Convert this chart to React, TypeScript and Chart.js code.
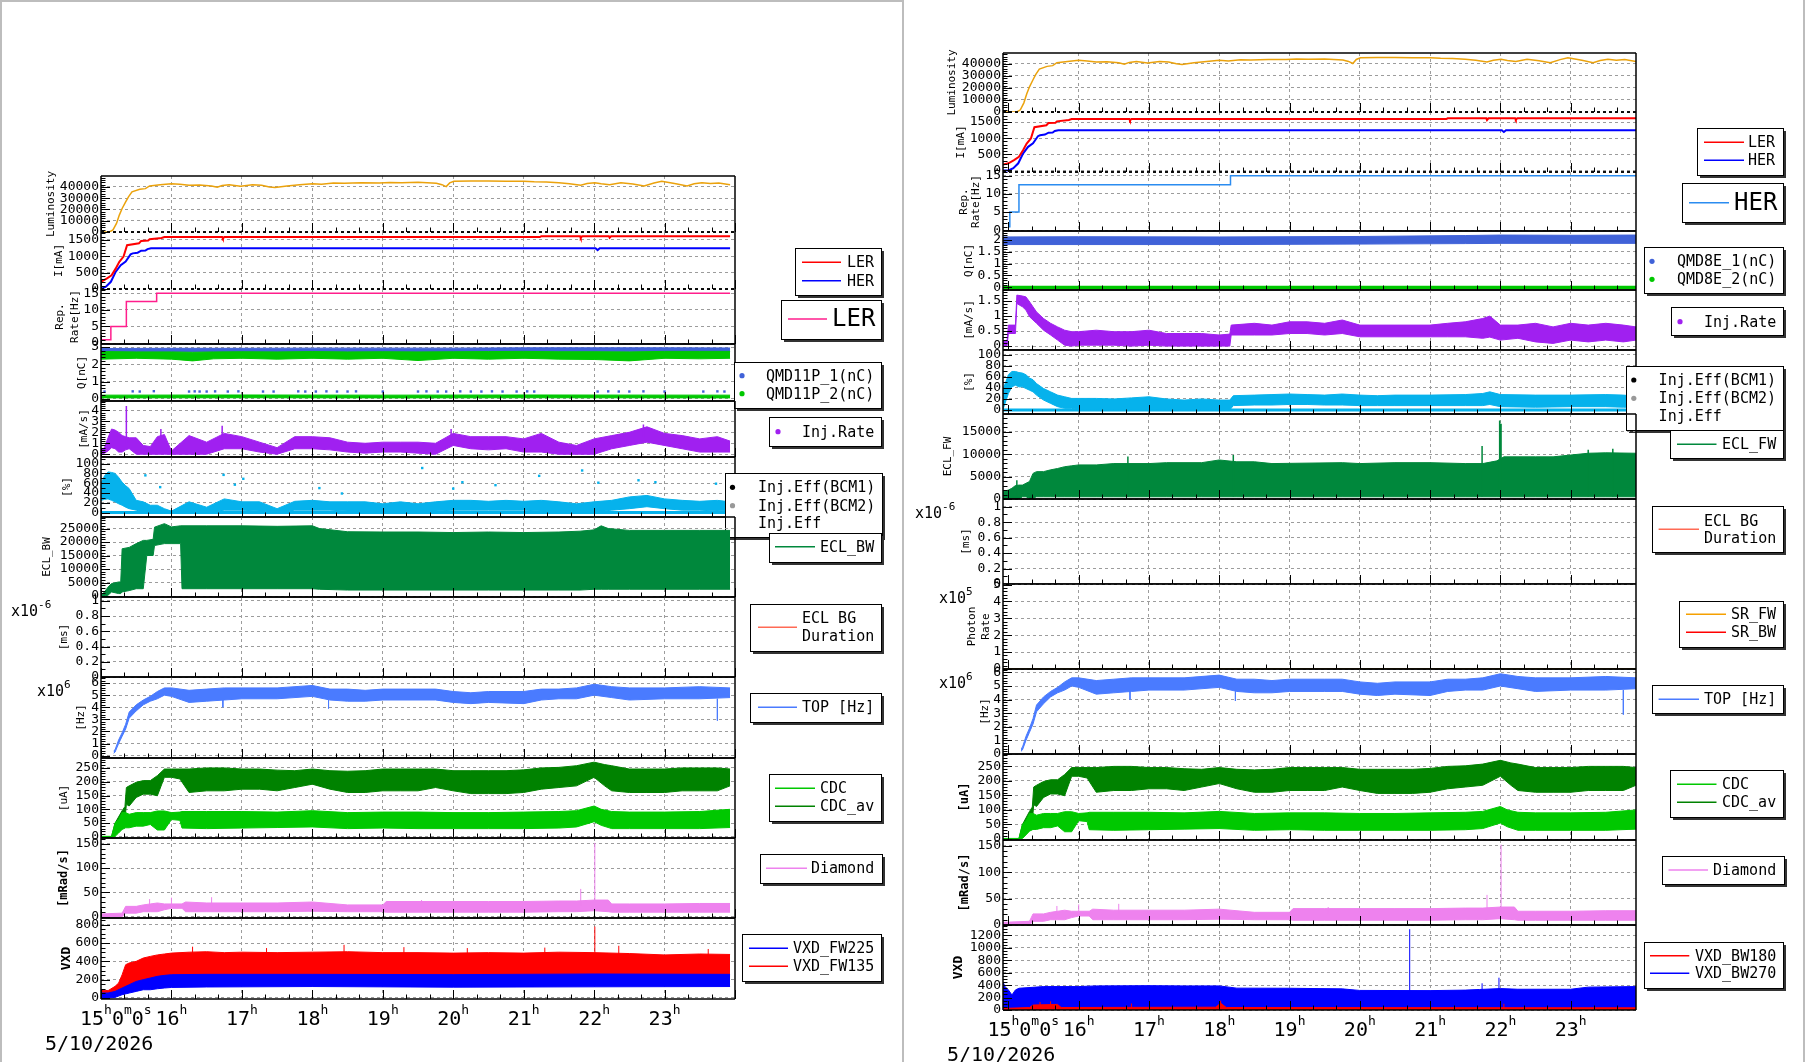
import { useEffect, useRef } from 'react';
import { Chart, registerables } from 'chart.js';

Chart.register(...registerables);

const MONO = '"DejaVu Sans Mono", monospace';
const GRID = '#9c9c9c';

// colours
const RED = '#ff0000';
const BLUE = '#0000ff';
const LUM_C = '#eba20c';
const LER_REP = '#ff1e8c';
const HER_REP = '#2b8cf0';
const Q_BLUE = '#4062d8';
const Q_GREEN = '#00c800';
const PURPLE = '#a020f0';
const CYAN = '#06b2ec';
const ECL_G = '#00883c';
const BG_DUR = '#ff6a55';
const TOP_C = '#4a7bff';
const CDC_L = '#00c800';
const CDC_D = '#008200';
const VIOLET = '#ee82ee';
const ORANGE = '#f5a000';

// time axis annotations
const HOURS = [16, 17, 18, 19, 20, 21, 22, 23];
const START_LABEL: [string, boolean][] = [['15', false], ['h', true], ['0', false], ['m', true], ['0', false], ['s', true]];
const DATE_LABEL = '5/10/2026';

// y tick sets
const T_LUM = [0, 10000, 20000, 30000, 40000];
const T_CUR = [0, 500, 1000, 1500];
const T_REP = [0, 5, 10, 15];
const T_Q_LER = [0, 1, 2, 3];
const T_Q_HER = [0, 0.5, 1, 1.5, 2];
const T_INJ_LER = [0, 1, 2, 3, 4];
const T_INJ_HER = [0, 0.5, 1, 1.5];
const T_EFF = [0, 20, 40, 60, 80, 100];
const T_ECL_BW = [0, 5000, 10000, 15000, 20000, 25000];
const T_ECL_FW = [0, 5000, 10000, 15000];
const T_MS = [0, 0.2, 0.4, 0.6, 0.8, 1];
const T_PHOTON = [0, 1, 2, 3, 4, 5];
const T_TOP = [0, 1, 2, 3, 4, 5, 6];
const T_CDC = [0, 50, 100, 150, 200, 250];
const T_DIA = [0, 50, 100, 150];
const T_VXD_FW = [0, 200, 400, 600, 800];
const T_VXD_BW = [0, 200, 400, 600, 800, 1000, 1200];

// ---- shared machine / detector channels: [hour, value] or [hour, low, high] ----
const luminosity = [
  [14.92, 0], [15.12, 0], [15.17, 1800], [15.22, 7600], [15.26, 15000], [15.3, 20900], [15.35, 26800], [15.39, 31200],
  [15.44, 35600], [15.55, 37900], [15.63, 38500], [15.69, 40900], [15.84, 42000], [16.0, 42900], [16.12, 42300],
  [16.25, 41500], [16.4, 41800], [16.57, 40900], [16.65, 39700], [16.72, 41200], [16.82, 42000], [16.98, 40600],
  [17.15, 42000], [17.28, 41500], [17.39, 40000], [17.47, 39400], [17.64, 40900], [17.82, 42000], [18.0, 42900],
  [18.13, 42400], [18.3, 43400], [18.45, 43200], [18.7, 43600], [18.95, 43500], [19.1, 44000], [19.27, 43800],
  [19.5, 44100], [19.76, 43200], [19.84, 42000], [19.9, 40300], [19.95, 43600], [20.01, 45000], [20.25, 45300],
  [20.5, 45300], [20.75, 45100], [21.0, 45000], [21.15, 44600], [21.32, 44400], [21.5, 43800], [21.65, 42900],
  [21.81, 41500], [21.9, 43000], [22.01, 43800], [22.1, 42800], [22.22, 42000], [22.38, 43800], [22.55, 42500],
  [22.71, 40900], [22.85, 43500], [22.96, 45000], [23.06, 44000], [23.16, 42900], [23.32, 40900], [23.42, 42800],
  [23.53, 43800], [23.65, 43000], [23.77, 43500], [23.93, 42000],
];
const lerCurrent = [
  [14.92, 180], [15.0, 220], [15.08, 320], [15.15, 420], [15.21, 630], [15.26, 830], [15.32, 990], [15.37, 1340],
  [15.54, 1400], [15.57, 1470], [15.67, 1480], [15.69, 1520], [15.86, 1560], [15.9, 1590], [16.72, 1590],
  [16.73, 1545], [16.75, 1590], [21.23, 1590], [21.25, 1615], [21.8, 1615], [21.81, 1560], [21.83, 1615],
  [22.21, 1615], [22.22, 1570], [22.24, 1615], [23.93, 1615],
];
const herCurrent = [
  [14.92, 0], [15.0, 0], [15.07, 70], [15.14, 220], [15.21, 530], [15.28, 730], [15.35, 840], [15.42, 1060],
  [15.45, 1090], [15.52, 1110], [15.57, 1170], [15.63, 1175], [15.66, 1220], [15.71, 1245], [22.02, 1245],
  [22.05, 1190], [22.08, 1245], [23.93, 1245],
];
const topRate = [
  [15.18, 0.2, 0.4], [15.2, 0.3, 0.5], [15.25, 1.0, 1.3], [15.3, 1.6, 1.9], [15.35, 2.2, 2.6], [15.4, 3.1, 3.6],
  [15.5, 3.7, 4.2], [15.6, 4.2, 4.6], [15.7, 4.5, 4.9], [15.8, 4.7, 5.3], [15.9, 5.0, 5.6], [16.0, 4.9, 5.6],
  [16.25, 4.4, 5.4], [16.5, 4.5, 5.5], [16.75, 4.6, 5.6], [17.0, 4.7, 5.6], [17.5, 4.7, 5.6], [18.0, 4.9, 5.8],
  [18.25, 4.6, 5.5], [18.5, 4.5, 5.5], [18.75, 4.5, 5.4], [19.0, 4.6, 5.5], [19.5, 4.6, 5.5], [19.75, 4.6, 5.5],
  [20.0, 4.4, 5.3], [20.25, 4.3, 5.2], [20.5, 4.4, 5.3], [21.0, 4.3, 5.3], [21.25, 4.6, 5.5], [21.5, 4.7, 5.5],
  [21.75, 4.7, 5.6], [22.0, 5.0, 5.9], [22.25, 4.8, 5.7], [22.5, 4.6, 5.6], [23.0, 4.7, 5.6], [23.5, 4.7, 5.7],
  [23.93, 4.8, 5.6],
];
const topDips = [[16.73, 4.6, 4.0], [18.23, 4.6, 3.9], [23.75, 4.7, 2.9]];
const cdcAv = [
  [15.15, 0, 2], [15.2, 10, 50], [15.3, 45, 95], [15.34, 60, 110], [15.36, 118, 179], [15.4, 112, 185],
  [15.5, 143, 198], [15.6, 155, 204], [15.7, 155, 204], [15.8, 149, 222], [15.9, 216, 246], [16.0, 216, 246],
  [16.12, 210, 246], [16.25, 161, 246], [16.5, 167, 250], [16.75, 167, 250], [17.0, 173, 246], [17.25, 173, 246],
  [17.5, 167, 242], [17.75, 179, 240], [18.0, 191, 246], [18.25, 173, 240], [18.5, 161, 238], [18.75, 161, 240],
  [19.0, 167, 246], [19.25, 167, 246], [19.5, 167, 246], [19.75, 179, 246], [20.0, 167, 240], [20.25, 157, 240],
  [20.5, 157, 240], [20.75, 157, 240], [21.0, 161, 243], [21.25, 173, 250], [21.5, 179, 252], [21.75, 185, 258],
  [22.0, 216, 271], [22.15, 185, 262], [22.25, 167, 258], [22.5, 161, 246], [22.75, 161, 246], [23.0, 161, 246],
  [23.25, 167, 250], [23.5, 167, 250], [23.75, 167, 250], [23.93, 185, 246],
];
const cdc = [
  [14.92, 0, 2], [15.15, 0, 2], [15.2, 2, 51], [15.25, 14, 63], [15.3, 27, 88], [15.35, 33, 88], [15.4, 33, 82],
  [15.5, 39, 88], [15.6, 39, 88], [15.7, 45, 88], [15.8, 25, 94], [15.9, 25, 94], [16.0, 63, 88], [16.12, 60, 90],
  [16.15, 32, 92], [16.5, 30, 92], [17.0, 32, 92], [17.5, 34, 90], [18.0, 36, 95], [18.5, 30, 88], [19.0, 32, 90],
  [19.5, 30, 90], [20.0, 30, 88], [20.5, 30, 88], [21.0, 30, 90], [21.5, 32, 92], [21.75, 36, 95], [22.0, 55, 112],
  [22.1, 42, 100], [22.25, 30, 92], [22.5, 30, 90], [23.0, 30, 90], [23.5, 30, 92], [23.93, 34, 100],
];
const diamond = [
  [14.92, 0, 5], [15.3, 0, 7], [15.35, 7, 21], [15.5, 7, 21], [15.6, 10, 24], [15.7, 10, 26], [15.8, 10, 28],
  [15.9, 14, 26], [16.0, 17, 26], [16.15, 17, 26], [16.2, 10, 30], [16.5, 10, 28], [17.0, 10, 28], [17.5, 10, 28],
  [18.0, 11, 30], [18.5, 10, 24], [19.0, 10, 24], [19.05, 9, 31], [19.5, 9, 31], [20.0, 9, 31], [20.5, 9, 31],
  [21.0, 9, 31], [21.5, 10, 32], [21.75, 10, 32], [22.0, 12, 34], [22.2, 10, 34], [22.25, 9, 26], [22.5, 9, 26],
  [23.0, 9, 26], [23.5, 9, 27], [23.93, 9, 27],
];
const diamondSpikes = [[15.69, 20, 36], [16.0, 20, 39], [16.57, 20, 40], [19.55, 20, 34], [21.81, 20, 57], [22.01, 20, 152]];

// ---- LER side ----
const lerRepRate = [[15.0, 1], [15.14, 5], [15.36, 12.5], [15.79, 15], [23.93, 15]];
const qmd11p1 = [
  [15.0, 2.72, 2.92], [16.0, 2.72, 2.93], [17.0, 2.72, 2.93], [18.0, 2.72, 2.94], [19.0, 2.72, 2.94],
  [20.0, 2.72, 2.94], [20.5, 2.73, 2.95], [21.0, 2.73, 2.96], [22.0, 2.73, 2.96], [23.0, 2.73, 2.96], [23.93, 2.73, 2.95],
];
const qmd11p2 = [
  [15.0, 2.3, 2.74], [15.5, 2.35, 2.72], [16.0, 2.3, 2.72], [16.3, 2.2, 2.7], [16.6, 2.32, 2.72], [17.0, 2.35, 2.73],
  [17.5, 2.3, 2.72], [18.0, 2.35, 2.74], [18.5, 2.3, 2.72], [19.0, 2.35, 2.73], [19.5, 2.22, 2.72], [20.0, 2.35, 2.73],
  [20.5, 2.3, 2.74], [21.0, 2.35, 2.75], [21.5, 2.3, 2.73], [22.0, 2.28, 2.73], [22.5, 2.2, 2.72], [23.0, 2.35, 2.75],
  [23.5, 2.32, 2.75], [23.93, 2.35, 2.75],
];
const qmd11p2Low = [[15.0, 0.05, 0.21], [17.0, 0.06, 0.22], [19.0, 0.05, 0.21], [21.0, 0.06, 0.22], [23.93, 0.05, 0.21]];
const qmd11p1Low = [
  [15.05, 0.42], [15.45, 0.43], [15.55, 0.42], [15.75, 0.44], [16.25, 0.42], [16.33, 0.43], [16.4, 0.42], [16.5, 0.42],
  [16.62, 0.43], [16.8, 0.42], [16.95, 0.43], [17.3, 0.42], [17.45, 0.42], [17.8, 0.43], [17.9, 0.42], [18.05, 0.42],
  [18.2, 0.43], [18.35, 0.42], [18.5, 0.42], [18.62, 0.43], [19.0, 0.42], [19.5, 0.42], [19.62, 0.43], [19.78, 0.42],
  [19.9, 0.42], [20.1, 0.43], [20.25, 0.42], [20.4, 0.42], [20.55, 0.43], [20.7, 0.42], [20.9, 0.42], [21.05, 0.43],
  [21.15, 0.42], [22.05, 0.42], [22.2, 0.43], [22.35, 0.42], [22.5, 0.42], [22.7, 0.43], [23.0, 0.42], [23.55, 0.42],
  [23.75, 0.43], [23.85, 0.42],
];
const injRateLER = [
  [15.0, 0, 0.4], [15.05, 0.1, 0.6], [15.1, 0.3, 1.5], [15.15, 0.6, 2.3], [15.2, 0.5, 2.2], [15.25, 0.2, 2.0],
  [15.3, 0.2, 1.7], [15.35, 0.4, 1.6], [15.4, 0.5, 1.5], [15.5, 0, 1.5], [15.6, 0, 0.8], [15.7, 0, 0.7], [15.8, 0, 1.6],
  [15.9, 0, 1.8], [16.0, 0, 0.3], [16.25, 0, 1.7], [16.5, 0, 1.1], [16.75, 0.5, 1.9], [17.0, 0.5, 1.6],
  [17.25, 0.2, 1.1], [17.5, 0, 0.6], [17.75, 0.5, 1.6], [18.0, 0.5, 1.6], [18.25, 0.4, 1.5], [18.5, 0.2, 1.1],
  [18.75, 0.1, 1.0], [19.0, 0.2, 1.1], [19.25, 0.2, 1.1], [19.5, 0.1, 1.1], [19.75, 0, 1.0], [20.0, 0.8, 1.9],
  [20.25, 0.5, 1.6], [20.5, 0.4, 1.6], [20.75, 0.5, 1.6], [21.0, 0.2, 1.4], [21.25, 0.2, 1.9], [21.5, 0, 1.1],
  [21.75, 0, 0.8], [22.0, 0, 1.4], [22.25, 0.5, 1.7], [22.5, 0.8, 2.0], [22.75, 1.1, 2.5], [23.0, 0.8, 1.9],
  [23.25, 0.5, 1.7], [23.5, 0.2, 1.4], [23.75, 0.2, 1.6], [23.93, 0.2, 1.2],
];
const injRateLERSpikes = [[15.36, 1.0, 4.4], [15.85, 0.5, 2.3], [16.72, 0.8, 2.6], [19.97, 1.0, 2.3], [22.7, 1.5, 2.7]];
const effLER = [
  [15.0, 25, 59], [15.05, 27, 75], [15.1, 28, 83], [15.15, 25, 82], [15.2, 22, 80], [15.25, 18, 72], [15.3, 15, 62],
  [15.35, 11, 55], [15.4, 8, 49], [15.5, 5, 25], [15.6, 1, 22], [15.7, 0, 15], [15.8, 0, 15], [15.9, 0, 8],
  [16.0, 0, 3], [16.25, 3, 22], [16.5, 0, 11], [16.75, 5, 28], [17.0, 5, 22], [17.25, 3, 22], [17.5, 0, 8],
  [17.75, 5, 23], [18.0, 5, 25], [18.25, 5, 22], [18.5, 3, 22], [18.75, 3, 22], [19.0, 1, 18], [19.25, 3, 22],
  [19.5, 1, 18], [19.75, 3, 22], [20.0, 5, 25], [20.25, 5, 25], [20.5, 5, 23], [20.75, 5, 25], [21.0, 5, 23],
  [21.25, 3, 25], [21.5, 1, 22], [21.75, 0, 18], [22.0, 1, 22], [22.25, 5, 25], [22.5, 8, 32], [22.75, 12, 35],
  [23.0, 8, 28], [23.25, 5, 25], [23.5, 5, 23], [23.75, 3, 25], [23.93, 5, 22],
];
const effLEROutliers = [
  [15.63, 76], [15.84, 52], [16.74, 77], [16.9, 57], [17.02, 69], [18.1, 50], [18.42, 39], [19.56, 91], [20.0, 49],
  [20.13, 62], [20.6, 56], [21.22, 75], [21.83, 86], [22.06, 61], [22.63, 66], [22.87, 62], [23.73, 59], [23.9, 49],
];
const effLERZero = [[15.0, 0], [23.93, 0]];
const eclBW = [
  [15.0, 0, 300], [15.05, 0, 1500], [15.1, 300, 3300], [15.15, 1500, 4600], [15.25, 900, 5200], [15.28, 900, 5200],
  [15.3, 1500, 17500], [15.4, 2000, 18000], [15.5, 2700, 19400], [15.6, 2700, 20600], [15.65, 15000, 20600],
  [15.74, 15000, 21000], [15.76, 18700, 25500], [15.9, 19400, 26800], [16.0, 19400, 25600], [16.13, 19400, 26000],
  [16.15, 2700, 26000], [16.5, 2700, 26000], [17.0, 2700, 26000], [17.5, 2700, 25800], [18.0, 2700, 26000],
  [18.1, 2500, 25000], [18.5, 2200, 23800], [19.0, 2200, 23700], [19.5, 2200, 23700], [20.0, 2200, 23500],
  [20.5, 2200, 23700], [21.0, 2200, 23500], [21.5, 2200, 23700], [21.8, 2200, 24000], [22.0, 2500, 24500],
  [22.1, 2500, 26000], [22.2, 2500, 25000], [22.5, 2500, 24300], [23.0, 2500, 24300], [23.5, 2500, 24300],
  [23.93, 2500, 24300],
];
const vxdFW135 = [
  [15.0, 0, 90], [15.1, 7, 80], [15.2, 18, 127], [15.25, 36, 163], [15.3, 72, 254], [15.35, 109, 363],
  [15.4, 109, 382], [15.5, 145, 400], [15.6, 181, 436], [15.7, 200, 454], [15.8, 218, 470], [15.9, 236, 480],
  [16.0, 240, 490], [16.25, 240, 500], [16.5, 240, 505], [16.75, 240, 495], [17.0, 240, 500], [17.5, 240, 495],
  [18.0, 240, 500], [18.5, 240, 505], [19.0, 240, 495], [19.5, 240, 495], [20.0, 240, 490], [20.5, 240, 495],
  [21.0, 240, 490], [21.5, 240, 500], [22.0, 240, 495], [22.5, 240, 485], [23.0, 240, 470], [23.5, 240, 480],
  [23.93, 240, 475],
];
const vxdFW135Spikes = [
  [16.3, 450, 560], [17.35, 450, 545], [18.45, 450, 580], [19.3, 450, 555], [20.2, 450, 545], [21.3, 450, 550],
  [22.01, 450, 780], [22.35, 450, 570], [23.62, 450, 535],
];
const vxdFW225 = [
  [15.0, 0, 55], [15.1, 0, 54], [15.2, 7, 72], [15.3, 36, 109], [15.4, 54, 145], [15.5, 72, 181], [15.6, 90, 200],
  [15.7, 90, 218], [15.8, 101, 236], [15.9, 109, 247], [16.0, 115, 254], [16.5, 120, 258], [18.0, 125, 258],
  [20.0, 118, 255], [22.0, 122, 262], [23.93, 125, 258],
];

// ---- HER side ----
const herRepRate = [[15.0, 1], [15.02, 5], [15.15, 12.5], [18.16, 15], [23.93, 15]];
const qmd8e1 = [
  [14.92, 1.8, 2.12], [16.0, 1.8, 2.13], [18.0, 1.8, 2.12], [20.0, 1.82, 2.14], [21.5, 1.84, 2.18],
  [22.0, 1.85, 2.2], [23.0, 1.85, 2.19], [23.93, 1.85, 2.2],
];
const qmd8e2 = [[14.92, 0], [23.93, 0]];
const injRateHER = [
  [14.92, 0, 0.15], [14.98, 0, 0.15], [15.0, 0.42, 0.7], [15.1, 0.42, 0.7], [15.12, 1.42, 1.7], [15.2, 1.31, 1.67],
  [15.25, 1.2, 1.64], [15.3, 0.98, 1.48], [15.35, 0.87, 1.31], [15.4, 0.76, 1.14], [15.5, 0.53, 0.92],
  [15.6, 0.37, 0.76], [15.7, 0.2, 0.64], [15.8, 0.03, 0.53], [15.9, 0, 0.48], [16.0, 0.03, 0.48], [16.25, 0.03, 0.53],
  [16.5, 0.03, 0.48], [16.75, 0, 0.48], [17.0, 0.03, 0.53], [17.25, 0, 0.42], [17.5, 0, 0.42], [17.75, 0, 0.42],
  [18.0, 0, 0.37], [18.15, 0, 0.4], [18.17, 0.37, 0.7], [18.5, 0.37, 0.76], [18.75, 0.37, 0.7], [19.0, 0.42, 0.81],
  [19.25, 0.42, 0.81], [19.5, 0.37, 0.76], [19.75, 0.42, 0.87], [20.0, 0.31, 0.7], [20.5, 0.31, 0.7],
  [21.0, 0.31, 0.7], [21.25, 0.31, 0.76], [21.5, 0.31, 0.81], [21.75, 0.26, 0.92], [21.85, 0.3, 1.0],
  [22.0, 0.2, 0.7], [22.25, 0.26, 0.7], [22.5, 0.14, 0.76], [22.75, 0.09, 0.64], [23.0, 0.2, 0.76],
  [23.25, 0.14, 0.7], [23.5, 0.2, 0.76], [23.75, 0.14, 0.7], [23.93, 0.2, 0.64],
];
const effHER = [
  [14.92, 0, 36], [15.0, 30, 64], [15.05, 42, 70], [15.1, 45, 70], [15.15, 42, 68], [15.2, 42, 67], [15.25, 39, 64],
  [15.3, 36, 58], [15.35, 33, 55], [15.4, 27, 48], [15.5, 18, 39], [15.6, 12, 33], [15.7, 6, 27], [15.8, 3, 24],
  [15.9, 3, 21], [16.0, 1, 21], [16.25, 2, 21], [16.5, 2, 20], [16.75, 2, 22], [17.0, 2, 24], [17.25, 1, 20],
  [17.5, 0, 18], [17.75, 1, 20], [18.0, 0, 18], [18.15, 0, 18], [18.2, 8, 26], [18.5, 9, 27], [18.75, 9, 28],
  [19.0, 10, 29], [19.25, 10, 28], [19.5, 9, 27], [19.75, 9, 29], [20.0, 8, 27], [20.25, 8, 26], [20.5, 8, 27],
  [21.0, 8, 27], [21.5, 8, 28], [21.75, 8, 30], [21.85, 10, 33], [22.0, 6, 28], [22.5, 5, 27], [23.0, 6, 27],
  [23.5, 6, 28], [23.75, 5, 27], [23.93, 5, 25],
];
const effHERZero = [[14.92, 0], [23.93, 0]];
const eclFW = [
  [14.92, 0, 1600], [15.0, 0, 2000], [15.05, 0, 2400], [15.1, 0, 3000], [15.15, 0, 3100], [15.2, 500, 3100],
  [15.25, 500, 3500], [15.3, 150, 3900], [15.35, 150, 5700], [15.4, 500, 6100], [15.5, 500, 6100],
  [15.6, 500, 6500], [15.7, 500, 6800], [15.8, 500, 7200], [15.9, 500, 7400], [16.0, 500, 7600],
  [16.25, 500, 7600], [16.5, 500, 7900], [17.0, 500, 7900], [17.25, 500, 8100], [17.75, 500, 8100],
  [18.0, 500, 8700], [18.25, 500, 8300], [18.5, 500, 8300], [18.75, 500, 7900], [19.75, 500, 8100],
  [20.0, 500, 7900], [20.5, 500, 8100], [21.0, 500, 8100], [21.5, 500, 7900], [21.75, 500, 7900],
  [21.95, 500, 8500], [22.05, 500, 9400], [22.5, 500, 9400], [22.75, 500, 9400], [23.0, 500, 9800],
  [23.25, 500, 10200], [23.5, 500, 10300], [23.93, 500, 10200],
];
const eclFWSpikes = [
  [15.12, 500, 4200], [16.7, 500, 9500], [18.2, 500, 9800], [21.74, 500, 11800], [21.99, 500, 17500],
  [22.01, 500, 16800], [23.25, 500, 11000], [23.6, 500, 11200],
];
const srFW = [[14.92, 0], [23.93, 0]];
const srBW = [[14.92, 0], [23.93, 0]];
const vxdBW270 = [
  [14.92, 20, 460], [14.95, 20, 380], [15.0, 20, 323], [15.05, 20, 242], [15.1, 20, 323], [15.15, 20, 350],
  [15.5, 20, 377], [16.0, 20, 377], [16.25, 20, 388], [17.0, 20, 392], [17.5, 20, 388], [18.0, 20, 388],
  [18.25, 20, 352], [19.0, 20, 350], [19.75, 20, 340], [20.0, 20, 315], [21.0, 20, 312], [21.5, 20, 320],
  [21.7, 20, 330], [22.0, 20, 345], [22.25, 20, 334], [23.0, 20, 334], [23.25, 20, 368], [23.93, 20, 377],
];
const vxdBW270Spikes = [[20.71, 200, 1300], [21.74, 250, 430], [21.98, 250, 520]];
const vxdBW180 = [
  [14.92, 0, 25], [15.3, 0, 40], [15.35, 0, 80], [15.7, 0, 90], [15.75, 0, 40], [17.95, 0, 45], [18.02, 0, 110],
  [18.1, 0, 40], [23.93, 0, 35],
];
const vxdBW180Spikes = [[15.45, 0, 130], [15.6, 0, 140], [16.75, 0, 105], [18.02, 0, 150], [22.05, 0, 100]];

// ---------- dataset builders ----------
type Rows = number[][];
const xy = (rows: Rows, k = 1) => rows.map((r) => ({ x: r[0], y: r[k] }));
const line = (rows: Rows, color: string, width = 1.5, stepped = false) => [
  { data: xy(rows), borderColor: color, borderWidth: width, pointRadius: 0, fill: false, stepped },
];
const band = (rows: Rows, color: string) => [
  { data: xy(rows, 1), borderColor: color, borderWidth: 1, pointRadius: 0, fill: false },
  { data: xy(rows, 2), borderColor: color, borderWidth: 1, pointRadius: 0, fill: '-1', backgroundColor: color },
];
const spikes = (rows: Rows, color: string, width = 1) => {
  const d: any[] = [];
  rows.forEach(([t, a, b]) => d.push({ x: t, y: a }, { x: t, y: b }, { x: t, y: null }));
  return [{ data: d, borderColor: color, borderWidth: width, pointRadius: 0, fill: false, spanGaps: false }];
};
const dots = (rows: Rows, color: string, r = 1.7) => [
  { data: xy(rows), showLine: false, pointRadius: r, pointStyle: 'rect', backgroundColor: color, borderWidth: 0 },
];

type LegRow = { y: number; text: string; kind: 'line' | 'dot' | 'none'; color?: string };
type Legend = { box: number[]; lineX?: number[]; dotX?: number; textX: number; font?: number; rows: LegRow[] };
type Title = { text: string; dx: number; bold?: boolean; size?: number };
type Panel = {
  top: number; bottom: number; ymin: number; ymax: number; yticks: number[]; minor: number;
  titles: Title[]; sets: any[]; legend?: Legend; expo?: { sup: string; dx: number };
  dashTop?: boolean; dashBottom?: boolean; axisLabels?: boolean;
};
type Column = { x0: number; width: number; frameR: number; xmin: number; xmax: number; panels: Panel[] };

const L = (y: number, text: string, color: string): LegRow => ({ y, text, kind: 'line', color });
const D = (y: number, text: string, color: string): LegRow => ({ y, text, kind: 'dot', color });

const leftColumn: Column = {
  x0: 0, width: 902, frameR: 735, xmin: 15.0, xmax: 24.0,
  panels: [
    { top: 176, bottom: 232, ymin: 0, ymax: 49700, yticks: T_LUM, minor: 5, dashBottom: true,
      titles: [{ text: 'Luminosity', dx: -50 }], sets: [...line(luminosity, LUM_C)] },
    { top: 232, bottom: 289, ymin: 0, ymax: 1743, yticks: T_CUR, minor: 5, dashTop: true, dashBottom: true,
      titles: [{ text: 'I[mA]', dx: -42 }], sets: [...line(herCurrent, BLUE, 2), ...line(lerCurrent, RED, 2)],
      legend: { box: [795, 248, 881, 295], lineX: [802, 841], textX: 847, rows: [L(262.3, 'LER', RED), L(280.7, 'HER', BLUE)] } },
    { top: 289, bottom: 344, ymin: -0.3, ymax: 16.3, yticks: T_REP, minor: 5, dashTop: true,
      titles: [{ text: 'Rep.', dx: -41 }, { text: 'Rate[Hz]', dx: -26 }], sets: [...line(lerRepRate, LER_REP, 1.5, true)],
      legend: { box: [781, 300, 881, 339], lineX: [788, 827], textX: 832, font: 24, rows: [L(319, 'LER', LER_REP)] } },
    { top: 344, bottom: 401, ymin: -0.13, ymax: 3.18, yticks: T_Q_LER, minor: 5,
      titles: [{ text: 'Q[nC]', dx: -19 }],
      sets: [...band(qmd11p1, Q_BLUE), ...band(qmd11p2, Q_GREEN), ...band(qmd11p2Low, Q_GREEN), ...dots(qmd11p1Low, Q_BLUE)],
      legend: { box: [734, 362, 881, 408], dotX: 742, textX: 766, rows: [D(375.7, 'QMD11P_1(nC)', Q_BLUE), D(393.7, 'QMD11P_2(nC)', Q_GREEN)] } },
    { top: 401, bottom: 457, ymin: -0.25, ymax: 4.85, yticks: T_INJ_LER, minor: 5,
      titles: [{ text: '[mA/s]', dx: -17 }], sets: [...band(injRateLER, PURPLE), ...spikes(injRateLERSpikes, PURPLE, 1.5)],
      legend: { box: [769, 417, 881, 446], dotX: 778, textX: 802, rows: [D(431.7, 'Inj.Rate', PURPLE)] } },
    { top: 457, bottom: 517, ymin: -9, ymax: 113.5, yticks: T_EFF, minor: 2,
      titles: [{ text: '[%]', dx: -34 }],
      sets: [...line(effLERZero, CYAN, 3), ...band(effLER, CYAN), ...dots(effLEROutliers, CYAN)],
      legend: { box: [724.5, 473, 881, 537], dotX: 732.5, textX: 758,
        rows: [D(487.3, 'Inj.Eff(BCM1)', '#000'), D(505.7, 'Inj.Eff(BCM2)', '#999'), { y: 523.3, text: 'Inj.Eff', kind: 'none' }] } },
    { top: 517, bottom: 597, ymin: -370, ymax: 29260, yticks: T_ECL_BW, minor: 5,
      titles: [{ text: 'ECL_BW', dx: -54 }], sets: [...band(eclBW, ECL_G)],
      legend: { box: [769, 533, 881, 562], lineX: [775, 815], textX: 820, rows: [L(546.7, 'ECL_BW', ECL_G)] } },
    { top: 597, bottom: 677, ymin: 0, ymax: 1.05, yticks: T_MS, minor: 2, expo: { sup: '-6', dx: -90 },
      titles: [{ text: '[ms]', dx: -37 }], sets: [],
      legend: { box: [750, 604, 881, 651], lineX: [758, 797], textX: 802,
        rows: [{ y: 618.3, text: 'ECL BG', kind: 'none' }, { y: 636, text: 'Duration', kind: 'none' }, L(627.3, '', BG_DUR)] } },
    { top: 677, bottom: 758, ymin: -0.19, ymax: 6.5, yticks: T_TOP, minor: 5, expo: { sup: '6', dx: -64 },
      titles: [{ text: '[Hz]', dx: -20 }], sets: [...band(topRate, TOP_C), ...spikes(topDips, TOP_C)],
      legend: { box: [750, 693, 881, 722], lineX: [758, 797], textX: 802, rows: [L(707.3, 'TOP [Hz]', TOP_C)] } },
    { top: 758, bottom: 838, ymin: -4, ymax: 286, yticks: T_CDC, minor: 5,
      titles: [{ text: '[uA]', dx: -37 }], sets: [...band(cdcAv, CDC_D), ...band(cdc, CDC_L)],
      legend: { box: [769, 774, 881, 821], lineX: [775, 815], textX: 820, rows: [L(788.3, 'CDC', CDC_L), L(806.3, 'CDC_av', CDC_D)] } },
    { top: 838, bottom: 918, ymin: -3, ymax: 162, yticks: T_DIA, minor: 5,
      titles: [{ text: '[mRad/s]', dx: -37, bold: true, size: 12 }], sets: [...band(diamond, VIOLET), ...spikes(diamondSpikes, VIOLET)],
      legend: { box: [759.5, 854, 881, 883], lineX: [766, 807], textX: 811, rows: [L(868.3, 'Diamond', VIOLET)] } },
    { top: 918, bottom: 999, ymin: -11, ymax: 873, yticks: T_VXD_FW, minor: 4, axisLabels: true,
      titles: [{ text: 'VXD', dx: -34, bold: true, size: 13 }],
      sets: [...band(vxdFW135, RED), ...spikes(vxdFW135Spikes, RED), ...band(vxdFW225, BLUE)],
      legend: { box: [741.7, 934, 881, 981], lineX: [749, 788], textX: 793, rows: [L(948.3, 'VXD_FW225', BLUE), L(966.3, 'VXD_FW135', RED)] } },
  ],
};

const rightColumn: Column = {
  x0: 902, width: 904, frameR: 734, xmin: 14.923, xmax: 23.93,
  panels: [
    { top: 53, bottom: 112, ymin: 0, ymax: 49000, yticks: T_LUM, minor: 5, dashBottom: true,
      titles: [{ text: 'Luminosity', dx: -51 }], sets: [...line(luminosity, LUM_C)] },
    { top: 112, bottom: 172, ymin: -50, ymax: 1810, yticks: T_CUR, minor: 5, dashTop: true, dashBottom: true,
      titles: [{ text: 'I[mA]', dx: -42 }], sets: [...line(herCurrent, BLUE, 2), ...line(lerCurrent, RED, 2)],
      legend: { box: [795, 128.3, 881, 175], lineX: [802, 842], textX: 846, rows: [L(142.3, 'LER', RED), L(160.3, 'HER', BLUE)] } },
    { top: 172, bottom: 231, ymin: -0.2, ymax: 16.0, yticks: T_REP, minor: 5, dashTop: true,
      titles: [{ text: 'Rep.', dx: -39 }, { text: 'Rate[Hz]', dx: -27 }], sets: [...line(herRepRate, HER_REP, 1.5, true)],
      legend: { box: [780, 183.3, 881, 222.7], lineX: [787, 827], textX: 832, font: 24, rows: [L(202.7, 'HER', HER_REP)] } },
    { top: 231, bottom: 290, ymin: -0.11, ymax: 2.37, yticks: T_Q_HER, minor: 5,
      titles: [{ text: 'Q[nC]', dx: -34 }], sets: [...band(qmd8e1, Q_BLUE), ...line(qmd8e2, Q_GREEN, 3.5)],
      legend: { box: [742, 247.3, 881, 293.3], dotX: 750, textX: 775, rows: [D(261.3, 'QMD8E_1(nC)', Q_BLUE), D(279.3, 'QMD8E_2(nC)', Q_GREEN)] } },
    { top: 290, bottom: 350, ymin: -0.13, ymax: 1.87, yticks: T_INJ_HER, minor: 5,
      titles: [{ text: '[mA/s]', dx: -34 }], sets: [...band(injRateHER, PURPLE)],
      legend: { box: [769.4, 307.3, 881, 335.7], dotX: 778, textX: 802, rows: [D(321.7, 'Inj.Rate', PURPLE)] } },
    { top: 350, bottom: 414, ymin: -7.3, ymax: 109, yticks: T_EFF, minor: 2,
      titles: [{ text: '[%]', dx: -34 }], sets: [...line(effHERZero, CYAN, 3), ...band(effHER, CYAN)],
      legend: { box: [724.3, 366, 881, 430], dotX: 731.8, textX: 756.6,
        rows: [D(380, 'Inj.Eff(BCM1)', '#000'), D(398.3, 'Inj.Eff(BCM2)', '#999'), { y: 416, text: 'Inj.Eff', kind: 'none' }] } },
    { top: 414, bottom: 499, ymin: 0, ymax: 18950, yticks: T_ECL_FW, minor: 5,
      titles: [{ text: 'ECL_FW', dx: -55 }], sets: [...band(eclFW, ECL_G), ...spikes(eclFWSpikes, ECL_G, 1.5)],
      legend: { box: [768, 430, 881, 458.3], lineX: [775, 814.5], textX: 820, rows: [L(444.3, 'ECL_FW', ECL_G)] } },
    { top: 499, bottom: 584, ymin: 0, ymax: 1.1, yticks: T_MS, minor: 2, expo: { sup: '-6', dx: -88 },
      titles: [{ text: '[ms]', dx: -37 }], sets: [],
      legend: { box: [750.3, 506, 881, 552.3], lineX: [756.6, 797], textX: 802,
        rows: [{ y: 520.7, text: 'ECL BG', kind: 'none' }, { y: 538.3, text: 'Duration', kind: 'none' }, L(529.3, '', BG_DUR)] } },
    { top: 584, bottom: 669, ymin: 0, ymax: 5.03, yticks: T_PHOTON, minor: 5, expo: { sup: '5', dx: -64 },
      titles: [{ text: 'Photon', dx: -31 }, { text: 'Rate', dx: -17 }], sets: [...line(srBW, RED, 2), ...line(srFW, ORANGE, 2)],
      legend: { box: [777, 600.7, 881, 646.7], lineX: [784, 824], textX: 829, rows: [L(614.3, 'SR_FW', ORANGE), L(632.3, 'SR_BW', RED)] } },
    { top: 669, bottom: 754, ymin: 0, ymax: 6.25, yticks: T_TOP, minor: 5, expo: { sup: '6', dx: -64 },
      titles: [{ text: '[Hz]', dx: -18 }], sets: [...band(topRate, TOP_C), ...spikes(topDips, TOP_C)],
      legend: { box: [750.3, 685, 881, 713.3], lineX: [756.6, 797], textX: 802, rows: [L(699.3, 'TOP [Hz]', TOP_C)] } },
    { top: 754, bottom: 840, ymin: -3.4, ymax: 292.7, yticks: T_CDC, minor: 5,
      titles: [{ text: '[uA]', dx: -38, bold: true, size: 12 }], sets: [...band(cdcAv, CDC_D), ...band(cdc, CDC_L)],
      legend: { box: [768, 770, 881, 816.7], lineX: [775, 814.5], textX: 820, rows: [L(784.3, 'CDC', CDC_L), L(802.3, 'CDC_av', CDC_D)] } },
    { top: 840, bottom: 925, ymin: 0, ymax: 160.8, yticks: T_DIA, minor: 5,
      titles: [{ text: '[mRad/s]', dx: -38, bold: true, size: 12 }], sets: [...band(diamond, VIOLET), ...spikes(diamondSpikes, VIOLET)],
      legend: { box: [759.5, 856, 881, 884.3], lineX: [766.5, 806], textX: 811, rows: [L(870, 'Diamond', VIOLET)] } },
    { top: 925, bottom: 1010, ymin: 0, ymax: 1368, yticks: T_VXD_BW, minor: 4, axisLabels: true,
      titles: [{ text: 'VXD', dx: -44, bold: true, size: 13 }],
      sets: [...band(vxdBW270, BLUE), ...spikes(vxdBW270Spikes, BLUE), ...band(vxdBW180, RED), ...spikes(vxdBW180Spikes, RED)],
      legend: { box: [741.6, 941.7, 881, 987.7], lineX: [748, 787.3], textX: 793, rows: [L(955.7, 'VXD_BW180', RED), L(973.3, 'VXD_BW270', BLUE)] } },
  ],
};

const PAD_T = 40;
const PAD_B = 45;
const PAGE_H = 1062;
const FRAME_L = 101;

type Item = { col: Column; p: Panel; x: number; y: number; w: number; h: number; padB: number };

function buildItems(): Item[] {
  const out: Item[] = [];
  for (const col of [leftColumn, rightColumn]) {
    col.panels.forEach((p, i) => {
      const last = i === col.panels.length - 1;
      const padB = last ? PAGE_H - p.bottom : PAD_B;
      out.push({ col, p, x: col.x0, y: p.top - PAD_T, w: col.width, h: p.bottom - p.top + PAD_T + padB, padB });
    });
  }
  return out;
}

const fmt = (v: number) => String(+v.toFixed(4));

function makeDecor(it: Item) {
  const { col, p } = it;
  return {
    id: 'rootDecor',
    afterDraw(chart: any) {
      const ctx: CanvasRenderingContext2D = chart.ctx;
      const a = chart.chartArea;
      const ys = chart.scales.y;
      const xs = chart.scales.x;
      ctx.save();
      ctx.setLineDash([]);
      // inner tick marks on the left and bottom edges
      ctx.strokeStyle = '#000';
      ctx.lineWidth = 1;
      ctx.beginPath();
      const y0 = p.yticks[0];
      const sub = (p.yticks[1] - p.yticks[0]) / p.minor;
      const nLo = Math.ceil((p.ymin - y0) / sub - 1e-6);
      const nHi = Math.floor((p.ymax - y0) / sub + 1e-6);
      for (let n = nLo; n <= nHi; n++) {
        const py = Math.round(ys.getPixelForValue(y0 + n * sub)) + 0.5;
        const len = n % p.minor === 0 ? 9 : 4.5;
        ctx.moveTo(a.left, py);
        ctx.lineTo(a.left + len, py);
      }
      const tLo = Math.ceil(col.xmin * 3 - 1e-6);
      const tHi = Math.floor(col.xmax * 3 + 1e-6);
      for (let n = tLo; n <= tHi; n++) {
        const px = Math.round(xs.getPixelForValue(n / 3)) + 0.5;
        const len = n % 3 === 0 ? 9 : 4.5;
        ctx.moveTo(px, a.bottom);
        ctx.lineTo(px, a.bottom - len);
      }
      ctx.stroke();

      // frame
      ctx.lineWidth = 1.5;
      const seg = (x1: number, y1: number, x2: number, y2: number, dash?: boolean) => {
        ctx.beginPath();
        ctx.setLineDash(dash ? [3, 3] : []);
        ctx.moveTo(x1, y1);
        ctx.lineTo(x2, y2);
        ctx.stroke();
      };
      seg(a.left, a.top, a.left, a.bottom);
      seg(a.right, a.top, a.right, a.bottom);
      seg(a.left, a.top, a.right, a.top, p.dashTop);
      seg(a.left, a.bottom, a.right, a.bottom, p.dashBottom);
      ctx.setLineDash([]);

      // axis titles
      ctx.fillStyle = '#000';
      const cy = (a.top + a.bottom) / 2;
      for (const t of p.titles) {
        ctx.save();
        ctx.translate(a.left + t.dx, cy);
        ctx.rotate(-Math.PI / 2);
        ctx.font = `${t.bold ? 'bold ' : ''}${t.size || 11}px ${MONO}`;
        ctx.textAlign = 'center';
        ctx.textBaseline = 'middle';
        ctx.fillText(t.text, 0, 0);
        ctx.restore();
      }

      // axis multiplier
      if (p.expo) {
        ctx.textAlign = 'left';
        ctx.textBaseline = 'alphabetic';
        ctx.font = `15px ${MONO}`;
        const x = a.left + p.expo.dx;
        ctx.fillText('x10', x, a.top + 19);
        const w = ctx.measureText('x10').width;
        ctx.font = `11px ${MONO}`;
        ctx.fillText(p.expo.sup, x + w, a.top + 11);
      }

      // legend box
      if (p.legend) {
        const lg = p.legend;
        const off = it.y;
        const [x1, y1, x2, y2] = lg.box;
        const bx = Math.round(x1);
        const by = Math.round(y1 - off);
        const w = Math.round(x2 - x1);
        const h = Math.round(y2 - y1);
        ctx.fillStyle = '#333';
        ctx.fillRect(bx + 3, by + 3, w, h);
        ctx.fillStyle = '#fff';
        ctx.fillRect(bx, by, w, h);
        ctx.strokeStyle = '#000';
        ctx.lineWidth = 1;
        ctx.strokeRect(bx + 0.5, by + 0.5, w, h);
        ctx.font = `${lg.font || 15}px ${MONO}`;
        ctx.textAlign = 'left';
        ctx.textBaseline = 'middle';
        for (const r of lg.rows) {
          const ry = r.y - off;
          if (r.kind === 'line' && lg.lineX) {
            ctx.strokeStyle = r.color || '#000';
            ctx.lineWidth = 1.5;
            ctx.beginPath();
            ctx.moveTo(lg.lineX[0], ry);
            ctx.lineTo(lg.lineX[1], ry);
            ctx.stroke();
          } else if (r.kind === 'dot' && lg.dotX !== undefined) {
            ctx.fillStyle = r.color || '#000';
            ctx.beginPath();
            ctx.arc(lg.dotX, ry, 2.6, 0, Math.PI * 2);
            ctx.fill();
          }
          if (r.text) {
            ctx.fillStyle = '#000';
            ctx.fillText(r.text, lg.textX, ry + 1);
          }
        }
      }

      // time axis labels under the bottom panel
      if (p.axisLabels) {
        const base = a.bottom + 26;
        const big = `20px ${MONO}`;
        const small = `13px ${MONO}`;
        ctx.fillStyle = '#000';
        ctx.textAlign = 'left';
        ctx.textBaseline = 'alphabetic';
        const widthOf = (parts: [string, boolean][]) =>
          parts.reduce((s, [txt, sup]) => {
            ctx.font = sup ? small : big;
            return s + ctx.measureText(txt).width;
          }, 0);
        const draw = (parts: [string, boolean][], x0: number) => {
          let x = x0;
          for (const [txt, sup] of parts) {
            ctx.font = sup ? small : big;
            ctx.fillText(txt, x, sup ? base - 11 : base);
            x += ctx.measureText(txt).width;
          }
        };
        draw(START_LABEL, xs.getPixelForValue(15) - 21);
        for (const hr of HOURS) {
          const parts: [string, boolean][] = [[String(hr), false], ['h', true]];
          draw(parts, xs.getPixelForValue(hr) - widthOf(parts) / 2);
        }
        ctx.font = big;
        ctx.fillText(DATE_LABEL, a.left - 56, a.bottom + 51);
      }
      ctx.restore();
    },
  };
}

function makeConfig(it: Item): any {
  const { col, p } = it;
  const sets = p.sets.map((s: any, i: number) => ({ ...s, order: -i }));
  return {
    type: 'line',
    data: { datasets: sets },
    options: {
      responsive: false,
      maintainAspectRatio: false,
      animation: false,
      devicePixelRatio: 1,
      events: [],
      layout: { padding: { left: 0, top: PAD_T, right: it.w - col.frameR, bottom: it.padB } },
      plugins: { legend: { display: false }, tooltip: { enabled: false } },
      scales: {
        x: {
          type: 'linear',
          min: col.xmin,
          max: col.xmax,
          afterBuildTicks: (s: any) => { s.ticks = HOURS.map((v) => ({ value: v })); },
          afterFit: (s: any) => { s.height = 0; },
          ticks: { display: false },
          grid: { color: GRID, lineWidth: 1, drawTicks: false },
          border: { display: false, dash: [3, 3] },
        },
        y: {
          type: 'linear',
          min: p.ymin,
          max: p.ymax,
          afterBuildTicks: (s: any) => { s.ticks = p.yticks.map((v) => ({ value: v })); },
          afterFit: (s: any) => { s.width = FRAME_L; },
          ticks: {
            autoSkip: false,
            padding: 2,
            color: '#000',
            font: { family: MONO, size: 13 },
            callback: (v: number) => fmt(v),
          },
          grid: { color: GRID, lineWidth: 1, drawTicks: false },
          border: { display: false, dash: [3, 3] },
        },
      },
    },
    plugins: [makeDecor(it)],
  };
}

export default function App() {
  const refs = useRef<(HTMLCanvasElement | null)[]>([]);
  const items = buildItems();

  useEffect(() => {
    document.body.style.margin = '0';
    const charts = items.map((it, i) => new Chart(refs.current[i] as HTMLCanvasElement, makeConfig(it)));
    return () => charts.forEach((c) => c.destroy());
  }, []);

  return (
    <div style={{ position: 'fixed', left: 0, top: 0, width: 1806, height: 1062, background: '#fff', overflow: 'hidden' }}>
      <div style={{ position: 'absolute', left: 0, top: 0, width: 904, height: 1062, boxSizing: 'border-box',
        borderLeft: '2px solid #bdbdbd', borderTop: '2px solid #bdbdbd', borderRight: '2px solid #bdbdbd' }} />
      <div style={{ position: 'absolute', left: 1803, top: 0, width: 2, height: 1062, background: '#bdbdbd' }} />
      {items.map((it, i) => (
        <canvas
          key={i}
          ref={(el) => { refs.current[i] = el; }}
          width={it.w}
          height={it.h}
          style={{ position: 'absolute', left: it.x, top: it.y, width: it.w, height: it.h }}
        />
      ))}
    </div>
  );
}
